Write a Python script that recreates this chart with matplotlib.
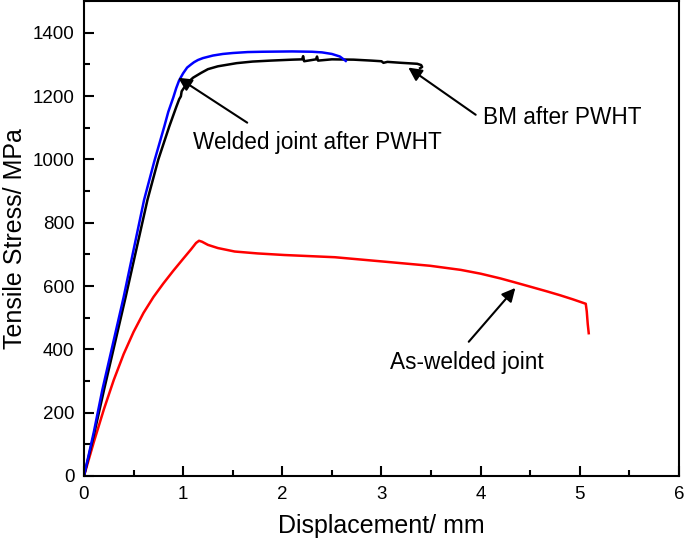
import matplotlib
matplotlib.use("Agg")
import matplotlib.pyplot as plt
from matplotlib.ticker import MultipleLocator

plt.rcParams["font.family"] = ["Liberation Sans", "DejaVu Sans"]

# * curvas (desplazamiento en mm, esfuerzo en MPa)
bm_x = [0.0, 0.1, 0.202, 0.42, 0.64, 0.75, 0.86, 0.93, 0.96, 0.977, 0.985, 1.04,
        1.1, 1.18, 1.25, 1.35, 1.54, 1.7, 1.88, 2.1, 2.2, 2.21, 2.22, 2.34, 2.35,
        2.36, 2.5, 2.72, 2.9, 3.0, 3.02, 3.06, 3.2, 3.36, 3.40, 3.41, 3.39]
bm_y = [0, 130, 272, 565, 872, 1000, 1104, 1165, 1190, 1199, 1215, 1241,
        1258, 1273, 1285, 1294, 1304, 1309, 1312, 1315, 1316, 1326, 1310, 1316, 1325,
        1312, 1316, 1315, 1312, 1310, 1305, 1308, 1305, 1302, 1298, 1292, 1288]

pwht_x = [0.0, 0.1, 0.185, 0.40, 0.606, 0.71, 0.81, 0.85, 0.9, 0.93, 0.96, 1.0,
          1.04, 1.08, 1.11, 1.15, 1.2, 1.3, 1.4, 1.5, 1.65, 1.8, 2.1, 2.3, 2.4,
          2.5, 2.58, 2.64]
pwht_y = [0, 140, 272, 565, 872, 995, 1104, 1150, 1195, 1225, 1250, 1272,
          1290, 1300, 1307, 1314, 1320, 1328, 1333, 1336, 1339, 1340, 1341, 1340, 1338,
          1333, 1325, 1311]

aw_x = [0.0, 0.1, 0.2, 0.3, 0.4, 0.5, 0.6, 0.7, 0.8, 0.9, 1.0, 1.08, 1.13,
        1.16, 1.19, 1.25, 1.35, 1.52, 1.75, 2.02, 2.53, 3.03, 3.49, 3.8, 4.0,
        4.2, 4.34, 4.5, 4.67, 4.8, 4.93, 5.06, 5.07, 5.08, 5.09]
aw_y = [0, 108, 210, 303, 385, 455, 515, 565, 608, 648, 686, 716, 736,
        743, 740, 730, 720, 709, 703, 698, 691, 677, 664, 651, 639,
        624, 612, 598, 583, 571, 558, 544, 520, 480, 451]

fig = plt.figure(figsize=(6.85, 5.44), dpi=100)
ax = fig.add_axes([0.1226, 0.125, 0.8686, 0.873])

ax.plot(aw_x, aw_y, color="red", lw=1.8)
ax.plot(bm_x, bm_y, color="black", lw=1.8)
ax.plot(pwht_x, pwht_y, color="blue", lw=1.8)

ax.set_xlim(0, 6)
ax.set_ylim(0, 1500)
ax.xaxis.set_major_locator(MultipleLocator(1))
ax.xaxis.set_minor_locator(MultipleLocator(0.5))
ax.yaxis.set_major_locator(MultipleLocator(200))
ax.yaxis.set_minor_locator(MultipleLocator(100))
ax.tick_params(which="both", direction="in", top=False, right=False, width=1.5)
ax.tick_params(which="major", length=7, labelsize=13.5, pad=7)
ax.tick_params(which="minor", length=4)
for s in ax.spines.values():
    s.set_linewidth(1.5)

ax.set_xlabel("Displacement/ mm", fontsize=18, labelpad=8)
ax.set_ylabel("Tensile Stress/ MPa", fontsize=18, labelpad=4)

# * flechas y textos
flecha = dict(arrowstyle="-|>", mutation_scale=20, lw=1.5, color="black",
              shrinkA=0, shrinkB=0)
ax.annotate("", xy=(0.95, 1258), xytext=(1.646, 1116), arrowprops=flecha)
ax.text(2.35, 1052, "Welded joint after PWHT", fontsize=16.3, ha="center", va="center")
ax.annotate("", xy=(3.27, 1290), xytext=(3.95, 1141), arrowprops=flecha)
ax.text(4.82, 1131, "BM after PWHT", fontsize=16.3, ha="center", va="center")
ax.annotate("", xy=(4.35, 594), xytext=(3.88, 424), arrowprops=flecha)
ax.text(3.86, 357, "As-welded joint", fontsize=16.3, ha="center", va="center")

plt.savefig("out.png", dpi=100)
